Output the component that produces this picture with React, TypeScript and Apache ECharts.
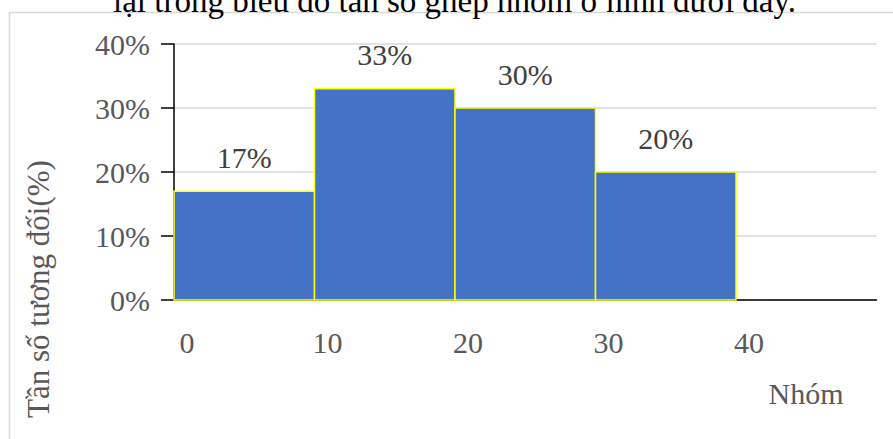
import React, { useEffect, useRef } from "react";
import * as echarts from "echarts";

const binStarts = [0, 10, 20, 30];
const binWidth = 10;
const freqs = [17, 33, 30, 20];
const xTickValues = [0, 10, 20, 30, 40];
const yTicks = [0, 10, 20, 30, 40];
const headText = "lại trong biểu đồ tần số ghép nhóm ở hình dưới đây.";
const yName = "Tần số tương đối(%)";
const xName = "Nhóm";

const FONT = "'Liberation Serif', 'Times New Roman', serif";
const GREY = "#595959";

export default function App() {
  const ref = useRef<HTMLDivElement>(null);
  useEffect(() => {
    if (!ref.current) return;
    const chart = echarts.init(ref.current, null, { renderer: "svg" });
    const data = binStarts.map((s, i) => [s, s + binWidth, freqs[i]]);
    chart.setOption({
      animation: false,
      backgroundColor: "#ffffff",
      grid: { left: 174, top: 44, right: 16.5, bottom: 139, containLabel: false },
      xAxis: {
        type: "value",
        min: 0,
        max: 50,
        interval: 10,
        axisLine: { show: true, lineStyle: { color: "#000000", width: 1.5 } },
        axisTick: { show: false },
        splitLine: { show: false },
        axisLabel: {
          margin: 27,
          fontFamily: FONT,
          fontSize: 30,
          color: GREY,
          padding: [0, 0, 0, 26],
          formatter: (v: number) => (xTickValues.includes(v) ? String(v) : ""),
        },
      },
      yAxis: {
        type: "value",
        min: 0,
        max: 40,
        interval: 10,
        axisLine: { show: true, lineStyle: { color: "#000000", width: 1.5 } },
        axisTick: { show: true, length: 13, lineStyle: { color: "#000000", width: 1.5 } },
        splitLine: { show: true, lineStyle: { color: "#d9d9d9", width: 1.5 } },
        axisLabel: {
          margin: 24,
          fontFamily: FONT,
          fontSize: 30,
          color: GREY,
          formatter: (v: number) => (yTicks.includes(v) ? v + "%" : ""),
        },
      },
      series: [
        {
          type: "custom",
          data,
          renderItem: (params: any, api: any) => {
            const x0 = api.value(0);
            const x1 = api.value(1);
            const v = api.value(2);
            const p0 = api.coord([x0, v]);
            const p1 = api.coord([x1, 0]);
            return {
              type: "group",
              children: [
                {
                  type: "rect",
                  shape: { x: p0[0], y: p0[1], width: p1[0] - p0[0], height: p1[1] - p0[1] },
                  style: { fill: "#4472C4", stroke: "#FFFF00", lineWidth: 1.5 },
                },
                {
                  type: "text",
                  x: (p0[0] + p1[0]) / 2,
                  y: p0[1] - 34,
                  style: {
                    text: v + "%",
                    align: "center",
                    verticalAlign: "middle",
                    fontFamily: FONT,
                    fontSize: 30,
                    fill: "#404040",
                  },
                },
              ],
            };
          },
        },
      ],
      graphic: [
        {
          type: "rect",
          z: -10,
          shape: { x: 9.5, y: 12.5, width: 1000, height: 1000 },
          style: { fill: "none", stroke: "#d9d9d9", lineWidth: 1.5 },
        },
        {
          type: "text",
          x: 113,
          y: 1,
          style: {
            text: headText,
            align: "left",
            verticalAlign: "middle",
            fontFamily: FONT,
            fontSize: 33,
            fill: "#000000",
          },
        },
        {
          type: "text",
          x: 38,
          y: 289,
          rotation: Math.PI / 2,
          style: {
            text: yName,
            align: "center",
            verticalAlign: "middle",
            fontFamily: FONT,
            fontSize: 31,
            fill: GREY,
          },
        },
        {
          type: "text",
          x: 806,
          y: 393,
          style: {
            text: xName,
            align: "center",
            verticalAlign: "middle",
            fontFamily: FONT,
            fontSize: 30,
            fill: GREY,
          },
        },
      ],
    });
    return () => chart.dispose();
  }, []);
  return (
    <div
      ref={ref}
      style={{ position: "fixed", left: 0, top: 0, width: 893, height: 439 }}
    />
  );
}
